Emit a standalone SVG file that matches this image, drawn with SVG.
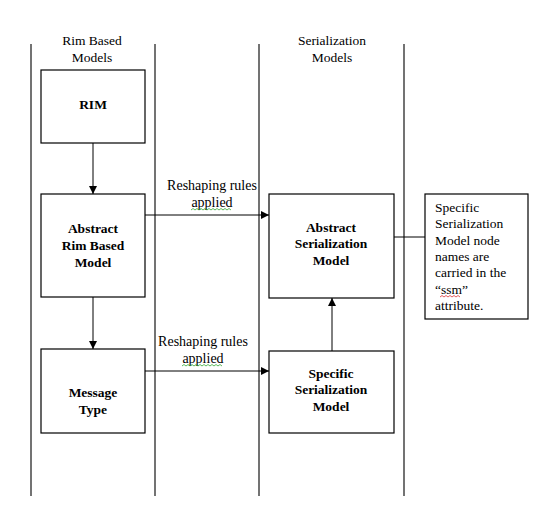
<svg xmlns="http://www.w3.org/2000/svg" width="550" height="522" viewBox="0 0 550 522">
<defs>
<marker id="ah" markerWidth="8" markerHeight="8" refX="8" refY="4" orient="auto" markerUnits="userSpaceOnUse">
<path d="M0,0 L8,4 L0,8 Z" fill="#000"/>
</marker>
<style>
.b{font-weight:bold;text-anchor:middle}
.c{text-anchor:middle}
.box{fill:#fff;stroke:#000;stroke-width:1.2}
.lane{stroke:#444;stroke-width:1.5}
.con{stroke:#000;stroke-width:1;fill:none}
.sq{fill:none;stroke-width:0.8}
</style>
</defs>
<rect width="550" height="522" fill="#fff"/>
<g id="lanes" font-family="Liberation Serif" font-size="13.5">
<line class="lane" x1="31" y1="44" x2="31" y2="496"/>
<line class="lane" x1="155" y1="44" x2="155" y2="496"/>
<line class="lane" x1="259" y1="44" x2="259" y2="496"/>
<line class="lane" x1="404" y1="44" x2="404" y2="496"/>
<text class="c" x="92" y="45">Rim Based</text>
<text class="c" x="92" y="62">Models</text>
<text class="c" x="332" y="45">Serialization</text>
<text class="c" x="332" y="62">Models</text>
</g>
<g id="connectors" font-family="Liberation Serif" font-size="14">
<line class="con" x1="93" y1="143" x2="93" y2="194" marker-end="url(#ah)"/>
<line class="con" x1="93" y1="297" x2="93" y2="349" marker-end="url(#ah)"/>
<line class="con" x1="145" y1="215" x2="269" y2="215" marker-end="url(#ah)"/>
<line class="con" x1="145" y1="371" x2="269" y2="371" marker-end="url(#ah)"/>
<line class="con" x1="332" y1="351" x2="332" y2="298" marker-end="url(#ah)"/>
<line class="con" x1="394" y1="237" x2="425" y2="237"/>
<text class="c" x="212" y="190">Reshaping rules</text>
<text class="c" x="212" y="207">applied</text>
<path class="sq" stroke="#3a3" d="M191,210 l2,-1.5 l2,1.5 l2,-1.5 l2,1.5 l2,-1.5 l2,1.5 l2,-1.5 l2,1.5 l2,-1.5 l2,1.5 l2,-1.5 l2,1.5 l2,-1.5 l2,1.5 l2,-1.5 l2,1.5 l2,-1.5 l2,1.5 l2,-1.5 l2,1.5"/>
<text class="c" x="203" y="346">Reshaping rules</text>
<text class="c" x="203" y="363">applied</text>
<path class="sq" stroke="#3a3" d="M182,366 l2,-1.5 l2,1.5 l2,-1.5 l2,1.5 l2,-1.5 l2,1.5 l2,-1.5 l2,1.5 l2,-1.5 l2,1.5 l2,-1.5 l2,1.5 l2,-1.5 l2,1.5 l2,-1.5 l2,1.5 l2,-1.5 l2,1.5 l2,-1.5 l2,1.5"/>
</g>
<g id="rim" font-family="Liberation Serif" font-size="13.5">
<rect class="box" x="41" y="70" width="104" height="73"/>
<text class="b" x="93" y="109">RIM</text>
</g>
<g id="abstract-rim" font-family="Liberation Serif" font-size="13.5">
<rect class="box" x="41" y="194" width="104" height="103"/>
<text class="b" x="93" y="233">Abstract</text>
<text class="b" x="93" y="250">Rim Based</text>
<text class="b" x="93" y="267">Model</text>
</g>
<g id="message-type" font-family="Liberation Serif" font-size="13.5">
<rect class="box" x="41" y="349" width="104" height="84"/>
<text class="b" x="93" y="397">Message</text>
<text class="b" x="93" y="414">Type</text>
</g>
<g id="abstract-serialization" font-family="Liberation Serif" font-size="13.5">
<rect class="box" x="269" y="194" width="125" height="104"/>
<text class="b" x="331" y="232">Abstract</text>
<text class="b" x="331" y="248">Serialization</text>
<text class="b" x="331" y="265">Model</text>
</g>
<g id="specific-serialization" font-family="Liberation Serif" font-size="13.5">
<rect class="box" x="269" y="351" width="125" height="82"/>
<text class="b" x="331" y="378">Specific</text>
<text class="b" x="331" y="394">Serialization</text>
<text class="b" x="331" y="411">Model</text>
</g>
<g id="note" font-family="Liberation Serif" font-size="13.5">
<rect class="box" x="425" y="194" width="103" height="125"/>
<text x="435" y="212">Specific</text>
<text x="435" y="228">Serialization</text>
<text x="435" y="245">Model node</text>
<text x="435" y="261">names are</text>
<text x="435" y="277">carried in the</text>
<text x="435" y="294">“ssm”</text>
<path class="sq" stroke="#d33" d="M440,297 l2,-1.5 l2,1.5 l2,-1.5 l2,1.5 l2,-1.5 l2,1.5 l2,-1.5 l2,1.5 l2,-1.5 l2,1.5"/>
<text x="435" y="310">attribute.</text>
</g>
</svg>
